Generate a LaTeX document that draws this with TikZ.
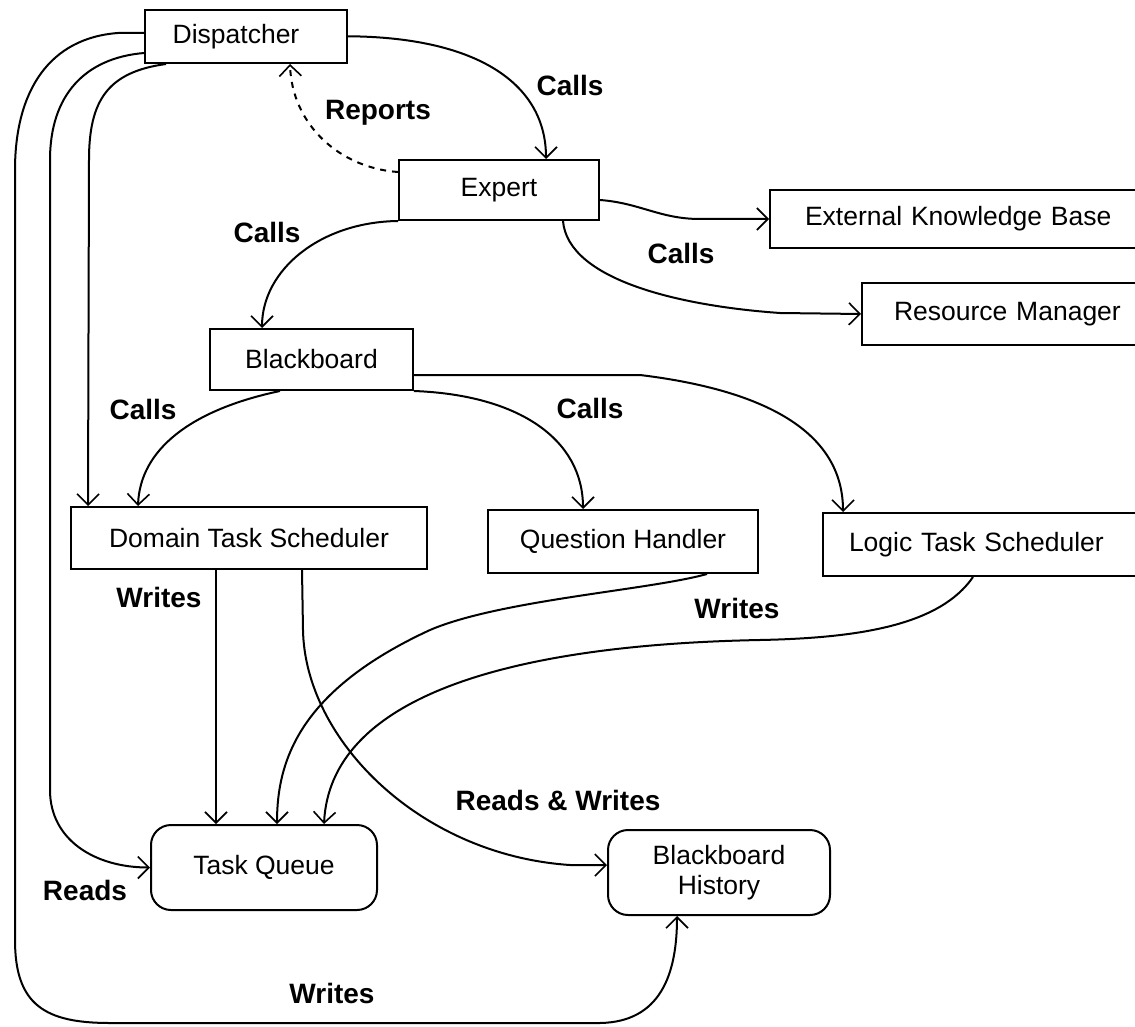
\documentclass[tikz,border=0pt]{standalone}
\usepackage{fontspec}
\setmainfont{Liberation Sans}
\usetikzlibrary{arrows.meta}
\begin{document}
\begin{tikzpicture}[x=1pt,y=-1pt,
  box/.style={draw, line width=2pt, inner sep=0pt, font=\fontsize{26.5}{30}\selectfont},
  rbox/.style={box, rounded corners=20pt},
  lbl/.style={font=\bfseries\fontsize{28}{32}\selectfont, inner sep=0pt},
  conn/.style={line width=2pt, -{Straight Barb[length=11pt,width=22pt,line width=1.6pt]}},
  dconn/.style={conn, dash pattern=on 6pt off 6pt}]
\useasboundingbox (0,0) rectangle (1135,1027);
\clip (0,0) rectangle (1135,1027);
% nodes
\node[box, minimum width=202pt, minimum height=53pt] (disp) at (246,36.5) {Dispatcher\hspace*{20pt}};
\node[box, minimum width=200pt, minimum height=60pt] (exp) at (499,190) {Expert};
\node[box, anchor=west, minimum height=58pt, inner xsep=35pt, text width=400pt, align=left] (ekb) at (769,219) {External Knowledge Base};
\node[box, anchor=west, minimum height=62pt, inner xsep=32pt, text width=300pt, align=left] (rm) at (861,314) {Resource Manager};
\node[box, minimum width=203pt, minimum height=61pt] (bb) at (311.5,359.5) {Blackboard};
\node[box, minimum width=356pt, minimum height=62pt] (dts) at (249,538) {Domain Task Scheduler};
\node[box, minimum width=270pt, minimum height=63pt] (qh) at (623,541.5) {Question Handler};
\node[box, anchor=west, minimum height=63pt, inner xsep=26pt, text width=320pt, align=left] (lts) at (822,544.5) {Logic Task Scheduler};
\node[rbox, minimum width=226pt, minimum height=85pt] (tq) at (264,867.5) {Task Queue};
\node[rbox, minimum width=222pt, minimum height=85pt, align=center] (bh) at (719,872.5) {Blackboard\\History};
% labels
\node[lbl] (lcalls1) at (570,85) {Calls};
\node[lbl] (lrep) at (378,113) {Reports};
\node[lbl] (lcalls2) at (267,232) {Calls};
\node[lbl] (lcalls3) at (681,253) {Calls};
\node[lbl] (lcalls4) at (143,409) {Calls};
\node[lbl] (lcalls5) at (590,408) {Calls};
\node[lbl] (lwr1) at (159,597) {Writes};
\node[lbl] (lwr2) at (737,608) {Writes};
\node[lbl] (lrw) at (558,800) {Reads \& Writes};
\node[lbl] (lreads) at (85,890) {Reads};
\node[lbl] (lwr3) at (332,993) {Writes};
% connectors
\draw[conn] (disp.east) -- ++(12,0) .. controls (480,40) and ([xshift=47pt]exp.north |- 0,85) .. ([xshift=47pt]exp.north);
\draw[dconn] ([yshift=18pt]exp.west) .. controls (340,168) and (292,125) .. ([xshift=44pt]disp.south);
\draw[conn] (exp.south west) .. controls (320,222) and (262,270) .. ([xshift=-49.5pt]bb.north);
\draw[conn] ([yshift=-10pt]exp.east) .. controls (640,203) and (660,219) .. (700,219) -- (ekb.west);
\draw[conn] ([xshift=64pt]exp.south) .. controls (568,280) and (680,306) .. (780,313) -- (rm.west);
\draw[conn] ([xshift=-31.5pt]bb.south) .. controls (190,410) and (140,450) .. ([xshift=-111pt]dts.north);
\draw[conn] (bb.south east) .. controls (520,395) and (583,440) .. ([xshift=-40pt]qh.north);
\draw[conn] ([yshift=-15.5pt]bb.east) -- (640,375) .. controls (780,392) and (843,440) .. ([xshift=21pt]lts.north west);
\draw[conn] ([yshift=3.5pt]disp.west) -- (118,33) .. controls (50,38) and (15,90) .. (15,170) -- (15,940) .. controls (15,1005) and (45,1023) .. (110,1023) -- (600,1023) .. controls (660,1022) and (677,975) .. ([xshift=-42pt]bh.south);
\draw[conn] ([yshift=-16.5pt]disp.west) .. controls (85,58) and (50,95) .. (50,160) -- (50,790) .. controls (50,840) and (95,867.5) .. (tq.west);
\draw[conn] ([xshift=22pt]disp.south west) .. controls (108,72) and (89,100) .. (89,160) -- ([xshift=18pt]dts.north west);
\draw[conn] ([xshift=146pt]dts.south west) -- ([xshift=146pt]dts.south west |- tq.north);
\draw[conn] ([xshift=232pt]dts.south west) -- (303,630) .. controls (305,740) and (420,855) .. (570,865) -- ([yshift=7.5pt]bh.west);
\draw[conn] ([xshift=84pt]qh.south) .. controls (650,590) and (500,600) .. (430,630) .. controls (300,690) and (277,760) .. ([xshift=13pt]tq.north);
\draw[conn] ([xshift=151pt]lts.south west) .. controls (940,625) and (860,638) .. (760,640) .. controls (500,645) and (330,700) .. ([xshift=60pt]tq.north);
\end{tikzpicture}
\end{document}
